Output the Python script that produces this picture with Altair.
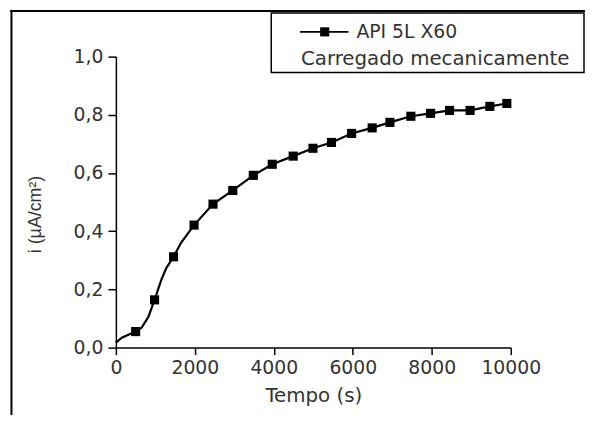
import altair as alt
import pandas as pd

# ---- data ----
marker_t = [500, 980, 1460, 1980, 2460, 2960, 3480, 3960, 4490, 4990,
            5460, 5970, 6490, 6940, 7470, 7970, 8450, 8970, 9470, 9900]
marker_i = [0.055, 0.164, 0.312, 0.421, 0.493, 0.540, 0.592, 0.630, 0.658, 0.685,
            0.705, 0.736, 0.755, 0.774, 0.795, 0.805, 0.815, 0.815, 0.829, 0.839]
# intermediate points of the continuous curve
extra_t = [0, 150, 650, 825, 1150, 1280, 1650]
extra_i = [0.017, 0.034, 0.068, 0.106, 0.233, 0.274, 0.360]

x_ticks = list(range(0, 10001, 1000))
y_ticks = [round(k * 0.1, 1) for k in range(11)]

series_label = "API 5L X60"
series_note = "Carregado mecanicamente"
x_title = "Tempo (s)"
y_title = "i (µA/cm²)"

marker_df = pd.DataFrame({"t": marker_t, "i": marker_i})
line_df = pd.DataFrame({"t": marker_t + extra_t, "i": marker_i + extra_i}).sort_values("t")
one = pd.DataFrame({"k": [0]})

FONT = "DejaVu Sans"
TXT = "#333333"

xaxis = alt.Axis(
    values=x_ticks, format="d",
    labelExpr="datum.value % 2000 == 0 ? datum.label : ''",
    tickSize={"condition": {"test": "round(datum.value/1000) % 2 == 1", "value": 4}, "value": 7},
    tickColor="black", tickWidth=1.5, domainColor="black", domainWidth=1.5,
    labelFont=FONT, labelFontSize=19, labelColor=TXT, labelPadding=4,
    labelFlush=False, labelOverlap=False,
    titleFont=FONT, titleFontSize=20, titleFontWeight="normal", titleColor=TXT,
    titleBaseline="alphabetic", titleY=54, grid=False,
)
yaxis = alt.Axis(
    values=y_ticks,
    labelExpr="round(datum.value*10) % 2 == 0 ? replace(format(datum.value, '.1f'), '.', ',') : ''",
    tickSize={"condition": {"test": "round(datum.value*10) % 2 == 1", "value": 4}, "value": 8},
    tickColor="black", tickWidth=1.5, domainColor="black", domainWidth=1.5,
    labelFont=FONT, labelFontSize=19, labelColor=TXT, labelPadding=5,
    labelFlush=False, labelOverlap=False,
    titleFont="Liberation Sans", titleFontSize=18, titleFontWeight="normal", titleColor=TXT,
    titleX=-81, titleY=159, titleBaseline="middle", titleAlign="center", grid=False,
)

xs = alt.Scale(domain=[0, 10000], nice=False)
ys = alt.Scale(domain=[0, 1], nice=False)

line = alt.Chart(line_df).mark_line(color="black", strokeWidth=2.2).encode(
    x=alt.X("t:Q", scale=xs, axis=xaxis, title=x_title),
    y=alt.Y("i:Q", scale=ys, axis=yaxis, title=y_title),
)
points = alt.Chart(marker_df).mark_square(color="black", size=85, opacity=1).encode(
    x=alt.X("t:Q", scale=xs), y=alt.Y("i:Q", scale=ys)
)

# legend box (decoration)
box = alt.Chart(one).mark_rect(fill="white", stroke="black", strokeWidth=1.5).encode(
    x=alt.value(157), x2=alt.value(473), y=alt.value(-44), y2=alt.value(16)
)
leg_line = alt.Chart(one).mark_rule(color="black", strokeWidth=2).encode(
    x=alt.value(186), x2=alt.value(235), y=alt.value(-25)
)
leg_sq = alt.Chart(one).mark_square(color="black", size=85, opacity=1).encode(
    x=alt.value(211), y=alt.value(-25)
)
leg_t1 = alt.Chart(one).mark_text(font=FONT, fontSize=19, color=TXT, align="left",
                                  baseline="alphabetic").encode(
    x=alt.value(243), y=alt.value(-19), text=alt.value(series_label)
)
leg_t2 = alt.Chart(one).mark_text(font=FONT, fontSize=20, color=TXT, align="left",
                                  baseline="alphabetic").encode(
    x=alt.value(187), y=alt.value(8), text=alt.value(series_note)
)
# outer figure frame
frame_top = alt.Chart(one).mark_rule(color="black", strokeWidth=2).encode(
    x=alt.value(-107), x2=alt.value(490), y=alt.value(-46)
)
frame_left = alt.Chart(one).mark_rule(color="black", strokeWidth=2).encode(
    x=alt.value(-105.5), y=alt.value(-47), y2=alt.value(420)
)

chart = alt.layer(line, points, box, leg_line, leg_sq, leg_t1, leg_t2, frame_top, frame_left).properties(
    width=399, height=294,
    autosize=alt.AutoSizeParams(type="none"),
    padding={"left": 109, "top": 47, "right": 75, "bottom": 66},
    background="white",
).configure_view(stroke=None)

chart.save("out.html", embed_options={"renderer": "svg", "actions": False})
